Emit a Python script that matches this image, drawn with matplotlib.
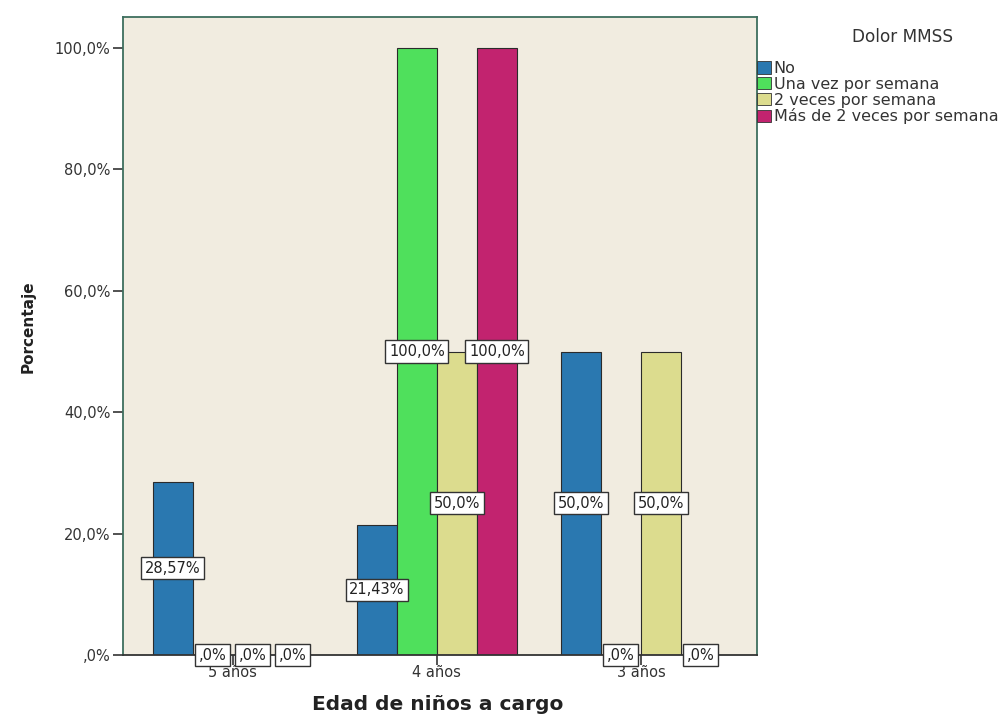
import matplotlib.pyplot as plt
from matplotlib.patches import Patch

plt.rcParams['font.family'] = ['DejaVu Sans']

grupos = ['5 años', '4 años', '3 años']
series = ['No', 'Una vez por semana', '2 veces por semana', 'Más de 2 veces por semana']
valores = {
    'No': [28.57, 21.43, 50.0],
    'Una vez por semana': [0.0, 100.0, 0.0],
    '2 veces por semana': [0.0, 50.0, 50.0],
    'Más de 2 veces por semana': [0.0, 100.0, 0.0],
}
etiquetas = {
    'No': ['28,57%', '21,43%', '50,0%'],
    'Una vez por semana': [',0%', '100,0%', ',0%'],
    '2 veces por semana': [',0%', '50,0%', '50,0%'],
    'Más de 2 veces por semana': [',0%', '100,0%', ',0%'],
}
colores = ['#2a78b0', '#4fe05c', '#dcdc8e', '#c2236f']
yticks = [0, 20, 40, 60, 80, 100]
yticklabels = [',0%', '20,0%', '40,0%', '60,0%', '80,0%', '100,0%']

fig = plt.figure(figsize=(10.07, 7.19), dpi=100)
ax = fig.add_axes([0.1221, 0.089, 0.6296, 0.8873])
ax.set_facecolor('#f1ece0')

ancho = 0.196
for i, s in enumerate(series):
    xs = [g + (i - 1.5) * ancho for g in range(len(grupos))]
    ax.bar(xs, valores[s], width=ancho, color=colores[i], edgecolor='#2b2b2b',
           linewidth=0.8, zorder=2)

# etiquetas en la mitad de cada barra
for i, s in enumerate(series):
    for g in range(len(grupos)):
        x = g + (i - 1.5) * ancho
        ax.text(x, valores[s][g] / 2, etiquetas[s][g], ha='center', va='center',
                fontsize=10.5, color='#222222', zorder=4,
                bbox=dict(boxstyle='square,pad=0.25', fc='white', ec='#333333', lw=1.0))

ax.set_xlim(-0.539, 2.569)
ax.set_ylim(0, 105.1)
ax.set_xticks(range(len(grupos)))
ax.set_xticklabels(grupos, fontsize=10.5, color='#333333')
ax.set_yticks(yticks)
ax.set_yticklabels(yticklabels, fontsize=10.5, color='#333333')
ax.tick_params(axis='both', length=7, width=1.2, color='#333333')
ax.tick_params(axis='y', pad=2)
ax.tick_params(axis='x', pad=0.5)

for sp in ax.spines.values():
    sp.set_color('#3e6e5e')
    sp.set_linewidth(1.3)
ax.spines['bottom'].set_color('#333333')

fig.text(28 / 1007, 1 - 327 / 719, 'Porcentaje', rotation=90, ha='center', va='center',
         fontsize=11, fontweight='bold', color='#222222')
fig.text(438 / 1007, 1 - 705 / 719, 'Edad de niños a cargo', ha='center', va='center',
         fontsize=14.5, fontweight='bold', color='#222222')

fig.text(903 / 1007, 1 - 37 / 719, 'Dolor MMSS', ha='center', va='center',
         fontsize=12.2, color='#333333')

handles = [Patch(facecolor=c, edgecolor='#333333', linewidth=0.6) for c in colores]
leg = fig.legend(handles, series, loc='upper left', bbox_to_anchor=(757 / 1007, 1 - 61 / 719),
                 fontsize=11.5, frameon=False, handlelength=0.85, handleheight=0.8,
                 handletextpad=0.2, labelspacing=0.05, borderpad=0, borderaxespad=0)
for t in leg.get_texts():
    t.set_color('#333333')

fig.savefig('out.png', dpi=100, facecolor='white')
